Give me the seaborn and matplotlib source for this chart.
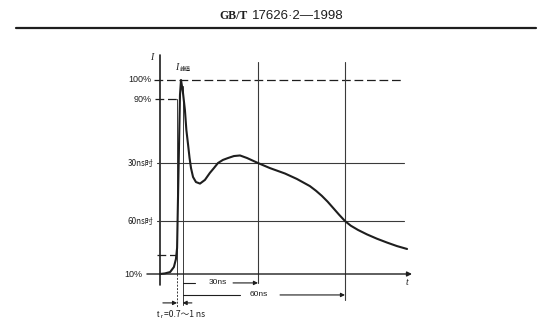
import matplotlib
matplotlib.use("Agg")
import matplotlib.pyplot as plt
from matplotlib.lines import Line2D
import seaborn as sns

# Discharge current waveform: time in ns, current in % of the peak value
t_ns = [-3.8, -2.1, -0.3, 1.0, 1.7, 2.1, 2.4, 2.8, 3.1, 3.45, 4.1, 4.8, 5.3,
        5.9, 6.4, 6.9, 7.6, 8.6, 10.0, 11.7, 13.4, 14.8, 16.2, 17.9, 19.7,
        21.7, 23.8, 26.2, 30.0, 34.1, 39.3, 43.4, 47.9, 50.0, 52.0, 54.0,
        56.0, 58.0, 60.0, 62.0, 64.5, 67.6, 71.0, 74.5, 77.9, 81.4]
current_pct = [0, 0.3, 1.0, 3.6, 7.7, 13.4, 38.1, 69.1, 92.3, 100, 93.8, 84.5,
               74.2, 66.5, 59.8, 54.6, 50.0, 47.4, 46.6, 48.5, 52.1, 54.6,
               57.2, 58.8, 59.8, 60.8, 61.1, 59.8, 57.2, 54.6, 51.8, 49.0,
               45.3, 42.9, 40.3, 37.3, 33.9, 30.5, 27.3, 24.9, 22.7, 20.4,
               18.2, 16.2, 14.4, 12.9]

# Reference levels
level_peak = 100
level_90 = 90
level_10 = 10
marker_times = [30, 60]          # ns
marker_levels = [57.2, 27.3]     # current at 30 ns and 60 ns
marker_labels = ["30ns时", "60ns时"]
dim_labels = ["30ns", "60ns"]
rise_start, rise_end = 2.1, 4.0  # ns, rise-time interval
rise_text = "=0.7～1 ns"

sns.set_theme(style="white")
plt.rcParams["font.family"] = ["Liberation Sans", "DejaVu Sans"]
CJK = ["Noto Sans CJK SC"]

W, H = 558, 330
fig = plt.figure(figsize=(W / 100, H / 100), dpi=100)
fig.patch.set_facecolor("white")

# Data frame: 2.9 px per ns, 1.94 px per %; origin at (171 px, 274 px)
sx, sy, x0, y0 = 2.9, 1.94, 171, 274
ax = fig.add_axes([0, 0, 1, 1])
ax.set_xlim(-x0 / sx, (W - x0) / sx)
ax.set_ylim((y0 - H) / sy, y0 / sy)
ax.axis("off")

ink = "#1e1e1e"
thin = "#3a3a3a"

# Header and rule
fig.text(248 / W, 1 - 16 / H, "GB/T", ha="right", va="center",
         family=["Liberation Serif", "DejaVu Serif"], weight="bold",
         fontsize=8.5, color=ink)
fig.text(252 / W, 1 - 16 / H, "17626·2—1998", ha="left", va="center",
         family=["Liberation Sans Narrow", "Liberation Sans"],
         fontsize=9.5, color=ink)
fig.add_artist(Line2D([16 / W, 536 / W], [1 - 27.5 / H] * 2, lw=1.6,
                      color=ink))

# Axes of the sketch
y_axis_t = -3.8
ax.plot([y_axis_t, y_axis_t], [-5.7, 112.9], color=ink, lw=1.2)
ax.annotate("", xy=(83.1, 0), xytext=(-8.3, 0),
            arrowprops=dict(arrowstyle="-|>", color=ink, lw=1.0,
                            mutation_scale=7, shrinkA=0, shrinkB=0))
ax.text(-6.6, 111.5, "I", ha="center", va="center", style="italic",
        family=["Liberation Serif"], fontsize=7, color=ink)
ax.text(81.4, -4.3, "t", ha="center", va="center", style="italic",
        family=["Liberation Serif"], fontsize=7, color=ink)

# Peak and 90 % / 10 % dashed levels
dash = dict(color=ink, lw=0.9, dashes=(7, 3))
ax.plot([-5.9, 79.3], [level_peak] * 2, **dash)
ax.plot([-5.5, 3.1], [level_90] * 2, **dash)
ax.plot([-4.8, 1.7], [level_10] * 2, **dash)

# 30 ns / 60 ns grid lines
for tm, lv in zip(marker_times, marker_levels):
    ax.plot([-4.8, 80.3], [lv, lv], color=thin, lw=0.8)
ax.plot([marker_times[0]] * 2, [-4.6, 109.3], color=thin, lw=0.8)
ax.plot([marker_times[1]] * 2, [-13.4, 109.3], color=thin, lw=0.8)

# Rise-time markers
ax.plot([rise_start] * 2, [level_90, 0], color=thin, lw=0.7)
ax.plot([rise_start] * 2, [0, -17.5], color=thin, lw=0.7, dashes=(2, 1.5))
ax.plot([rise_end] * 2, [level_peak - 3, -16], color=thin, lw=0.7)

# Waveform
sns.lineplot(x=t_ns, y=current_pct, ax=ax, color=ink, lw=1.5,
             estimator=None, sort=False)

# Level labels
lab = dict(ha="right", va="center", fontsize=6.5, color=ink)
ax.text(-6.6, level_peak, "100%", **lab)
ax.text(-6.6, level_90, "90%", **lab)
ax.text(-9.7, -0.5, "10%", **lab)
for lbl, lv in zip(marker_labels, marker_levels):
    ax.text(-6.0, lv, lbl, family=CJK, ha="right", va="center",
            fontsize=5.8, color=ink)

# I peak label
ax.text(1.9, 106.2, "I", ha="center", va="center", style="italic",
        family=["Liberation Serif"], fontsize=7, color=ink)
ax.text(4.7, 105.2, "峰值", ha="center", va="center", family=CJK,
        fontsize=4, color=ink)

# Dimension arrows for 30 ns and 60 ns
arr = dict(arrowstyle="-|>", color=ink, lw=0.8, mutation_scale=6,
           shrinkA=0, shrinkB=0)
y30, y60 = -4.6, -10.8
ax.plot([rise_end, 8.3], [y30, y30], color=ink, lw=0.8)
ax.annotate("", xy=(marker_times[0], y30), xytext=(21.4, y30),
            arrowprops=arr)
ax.text(16.2, y30, dim_labels[0], ha="center", va="center", fontsize=6,
        color=ink)
ax.plot([rise_end, 23.8], [y60, y60], color=ink, lw=0.8)
ax.annotate("", xy=(marker_times[1], y60), xytext=(37.6, y60),
            arrowprops=arr)
ax.text(30.2, y60, dim_labels[1], ha="center", va="center", fontsize=6,
        color=ink)

# Rise-time arrows and label
yr = -14.9
ax.annotate("", xy=(rise_start, yr), xytext=(-2.8, yr), arrowprops=arr)
ax.annotate("", xy=(rise_end, yr), xytext=(7.2, yr), arrowprops=arr)
ax.text(-4.3, -21.0, "t", ha="center", va="center", fontsize=6.5,
        color=ink)
ax.text(-3.3, -22.0, "r", ha="center", va="center", fontsize=4.5,
        color=ink)
ax.text(-2.4, -21.0, rise_text, ha="left", va="center", family=CJK,
        fontsize=6.2, color=ink)

fig.savefig("out.png", dpi=100, facecolor="white")
